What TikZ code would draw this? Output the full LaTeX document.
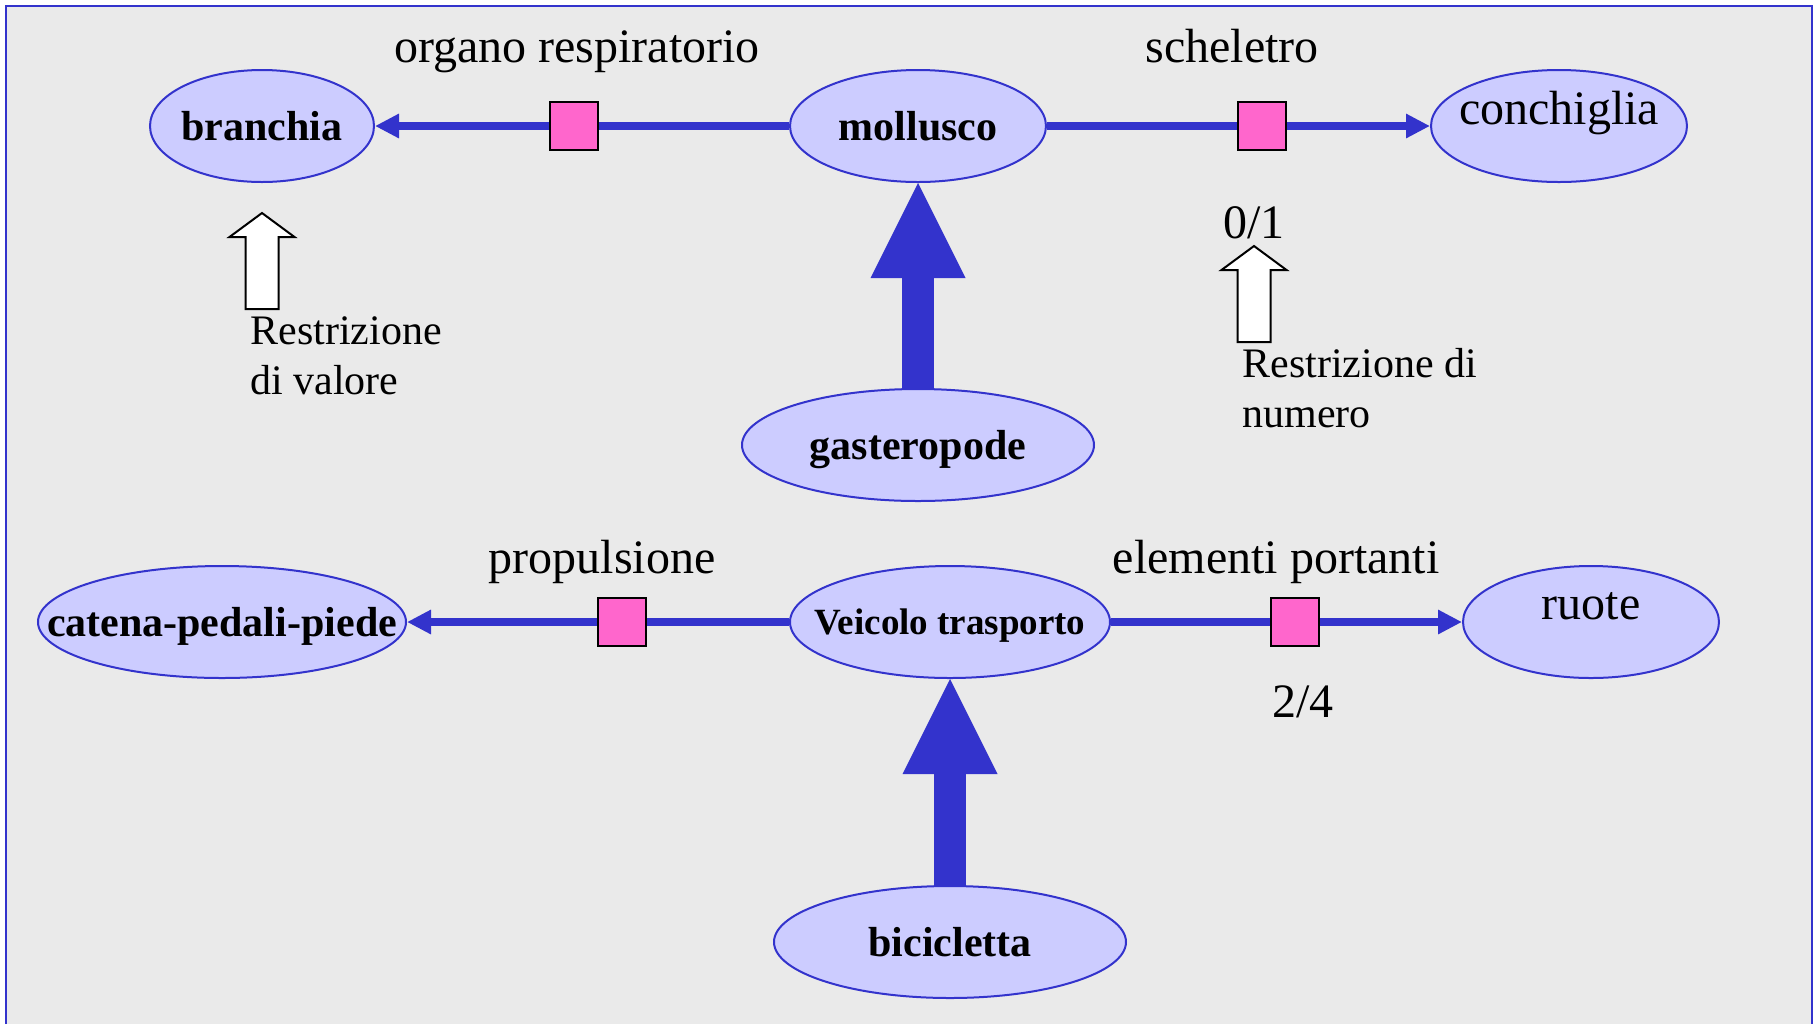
\documentclass[tikz,border=0pt]{standalone}
\usepackage{fontspec}
\setmainfont{Liberation Serif}
\usetikzlibrary{arrows.meta,shapes.geometric}
\definecolor{framebg}{HTML}{EAEAEA}
\definecolor{relblue}{HTML}{3333CC}
\definecolor{nodefill}{HTML}{CCCCFF}
\definecolor{slotpink}{HTML}{FF66CC}
% zero-width text so the ellipse size comes from minimum width/height only
\newcommand{\ztext}[1]{\makebox[0pt]{#1}}
\begin{document}
\begin{tikzpicture}[x=0.5pt,y=-0.5pt,
  concept/.style={ellipse, draw=relblue, line width=1pt, fill=nodefill,
    inner sep=0pt, text depth=0pt, minimum height=56pt},
  boldtxt/.style={font=\fontsize{21pt}{25pt}\selectfont\bfseries},
  plaintxt/.style={font=\fontsize{24pt}{28pt}\selectfont},
  rel/.style={draw=relblue, line width=4pt, -{Triangle[length=12pt,width=11.5pt]}},
  isa/.style={draw=relblue, line width=16pt,
    -{Triangle[length=47.5pt,width=47.5pt,line width=0pt]}},
  slot/.style={rectangle, draw=black, line width=1pt, fill=slotpink,
    minimum width=24pt, minimum height=24pt, inner sep=0pt},
  lbl/.style={inner sep=0pt, plaintxt, anchor=base},
  note/.style={inner sep=0pt, align=left, anchor=north west,
    font=\fontsize{21pt}{25pt}\selectfont},
  hollow/.style={draw=black, line width=1pt, fill=white, line join=miter},
  restr/.pic={\draw[hollow] (-16.5,0) -- (-16.5,-72) -- (-32.5,-72) -- (0,-96)
      -- (32.5,-72) -- (16.5,-72) -- (16.5,0) -- cycle;}
]
\useasboundingbox (0,0) rectangle (1816,1024);
\fill[white] (0,0) rectangle (1816,1024);
\fill[framebg] (6,6) rectangle (1812,1024);
\draw[relblue, line width=1pt] (6,1024) -- (6,6) -- (1812,6) -- (1812,1024);

% upper network
\node[concept, boldtxt, minimum width=112pt] (branchia) at (262,126) {\ztext{branchia}};
\node[concept, boldtxt, minimum width=128pt] (mollusco) at (918,126) {\ztext{mollusco}};
\node[concept, plaintxt, minimum width=128pt] (conchiglia) at (1559,126)
  {\raisebox{1pt}[0pt][0pt]{\ztext{conchiglia}}};
\node[concept, boldtxt, minimum width=176pt] (gasteropode) at (918,445) {\ztext{gasteropode}};

\draw[rel] (mollusco) -- (branchia);
\draw[rel] (mollusco) -- (conchiglia);
\draw[isa] (gasteropode) -- (mollusco);
\node[slot] (s1) at (574,126) {};
\node[slot] (s2) at (1262,126) {};

\node[lbl] (l1) at (577,62) {organo respiratorio};
\node[lbl] (l2) at (1232,62) {scheletro};
\node[lbl] (c1) at (1254,238) {0/1};

\pic at (262,309) {restr};
\pic at (1254,342) {restr};
\node[note] (n1) at (250,316) {Restrizione\\di valore};
\node[note] (n2) at (1242,348) {Restrizione di\\numero};

% lower network
\node[concept, boldtxt, minimum width=184pt] (catena) at (222,622) {\ztext{catena-pedali-piede}};
\node[concept, minimum width=160pt, font=\fontsize{18.5pt}{22pt}\selectfont\bfseries]
  (veicolo) at (950,622) {\ztext{Veicolo trasporto}};
\node[concept, plaintxt, minimum width=128pt] (ruote) at (1591,622)
  {\raisebox{1.5pt}[0pt][0pt]{\ztext{ruote}}};
\node[concept, boldtxt, minimum width=176pt] (bicicletta) at (950,942) {\ztext{bicicletta}};

\draw[rel] (veicolo) -- (catena);
\draw[rel] (veicolo) -- (ruote);
\draw[isa] (bicicletta) -- (veicolo);
\node[slot] (s3) at (622,622) {};
\node[slot] (s4) at (1295,622) {};

\node[lbl] (l3) at (602,573) {propulsione};
\node[lbl] (l4) at (1276,573) {elementi portanti};
\node[lbl] (c2) at (1303,717) {2/4};
\end{tikzpicture}
\end{document}
